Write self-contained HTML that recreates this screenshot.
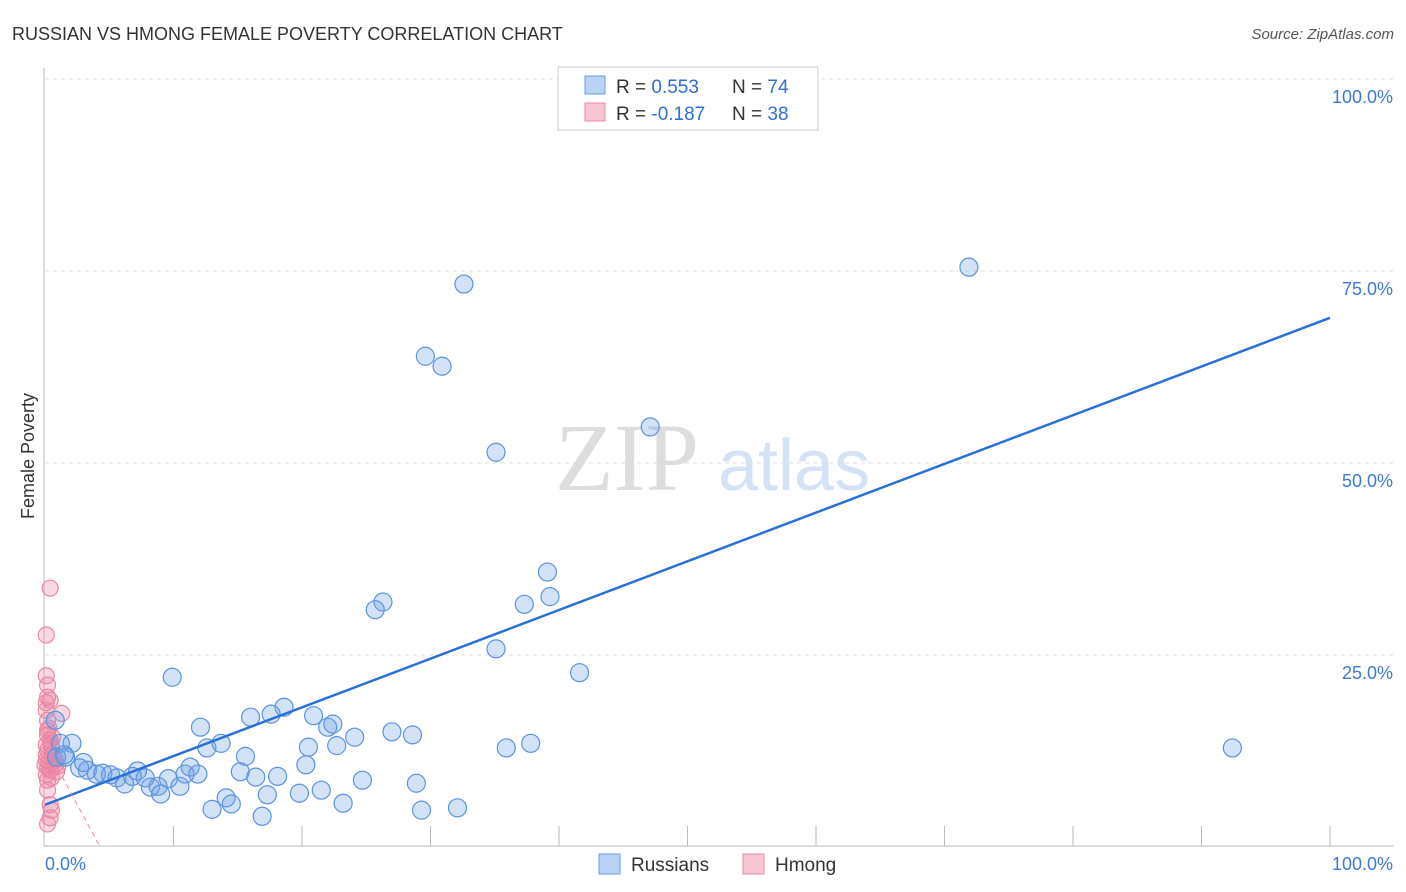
<!DOCTYPE html>
<html><head><meta charset="utf-8"><style>
body{margin:0;background:#fff;font-family:"Liberation Sans",sans-serif}
svg{display:block}
</style></head><body>
<svg id="c" width="1406" height="892" xmlns="http://www.w3.org/2000/svg">
<text x="12" y="40" font-size="18" fill="#333">RUSSIAN VS HMONG FEMALE POVERTY CORRELATION CHART</text>
<text x="1394" y="39" font-size="15" fill="#555" font-style="italic" text-anchor="end">Source: ZipAtlas.com</text>
<text x="34" y="456" font-size="18" fill="#333" text-anchor="middle" transform="rotate(-90 34 456)">Female Poverty</text>
<g>
<text x="555" y="490" font-size="96" fill="#ddd" font-family="Liberation Serif,serif">ZIP</text>
<text x="718" y="490" font-size="72" fill="#d4e2f5">atlas</text>
</g>
<g id="grid"></g><g id="axes"></g><g id="pts"></g><g id="lines"></g>
<g>
<rect x="558" y="67" width="260" height="63" fill="#fff" stroke="#ccc"/>
<rect x="585" y="76" width="20" height="18" fill="#b9d3f5" stroke="#6a9ee0"/>
<rect x="585" y="103" width="20" height="18" fill="#f8c5d3" stroke="#e88aa5"/>
<text x="616" y="93" font-size="19" fill="#333">R = <tspan fill="#2f6fd6">0.553</tspan></text>
<text x="732" y="93" font-size="19" fill="#333">N = <tspan fill="#2f6fd6">74</tspan></text>
<text x="616" y="120" font-size="19" fill="#333">R = <tspan fill="#2f6fd6">-0.187</tspan></text>
<text x="732" y="120" font-size="19" fill="#333">N = <tspan fill="#2f6fd6">38</tspan></text>
</g>
<g>
<rect x="599" y="854" width="21" height="20" fill="#b9d3f5" stroke="#6a9ee0"/>
<text x="631" y="871" font-size="19" fill="#333">Russians</text>
<rect x="743" y="854" width="21" height="20" fill="#f8c5d3" stroke="#e88aa5"/>
<text x="775" y="871" font-size="19" fill="#333">Hmong</text>
</g>
</svg>
<script>
const blueX=[50.0,71.9,32.6,29.6,30.9,47.1,35.1,39.1,26.3,25.7,37.3,39.3,35.1,41.6,9.9,18.6,16.0,17.6,20.9,22.4,22.0,12.1,24.1,27.0,28.6,92.4,35.9,37.8,13.7,12.6,20.5,22.7,15.6,1.2,2.1,1.6,0.9,2.7,3.3,4.0,4.5,5.1,5.6,6.2,6.8,7.2,7.8,8.2,8.8,9.0,9.6,10.5,10.9,11.3,11.9,15.2,16.4,18.1,20.3,28.9,24.7,19.8,21.5,17.3,14.1,14.5,13.0,23.2,29.3,32.1,16.9,0.8,1.5,3.0];
const blueY=[99.9,75.5,73.3,63.9,62.6,54.7,51.4,35.8,31.9,30.9,31.6,32.6,25.8,22.7,22.1,18.2,16.9,17.3,17.1,16.0,15.6,15.6,14.3,15.0,14.6,12.9,12.9,13.5,13.5,12.9,13.0,13.2,11.8,13.5,13.5,11.7,11.7,10.3,10.0,9.5,9.6,9.4,9.0,8.2,9.2,9.9,9.0,7.8,7.9,6.9,8.9,7.9,9.5,10.4,9.5,9.8,9.1,9.2,10.7,8.3,8.7,7.0,7.4,6.8,6.4,5.6,4.9,5.7,4.8,5.1,4.0,16.5,12.0,11.0];
const pinkX=[0.4,0.1,0.1,0.2,0.2,0.4,0.1,1.3,0.2,0.2,0.4,0.5,0.2,0.6,0.1,0.8,0.4,0.1,0.9,0.2,0.5,0.4,0.2,0.1,0.3,0.2,0.5,0.8,1.0,0.0,0.2,0.4,0.1,0.6,0.1,0.3,0.5,0.2];
const pinkY=[33.7,27.6,22.3,21.1,19.5,19.1,18.8,17.4,16.5,14.6,13.9,13.3,12.6,12.0,11.3,10.7,10.0,9.4,9.8,8.7,4.8,3.8,3.0,17.8,15.5,15.2,12.9,11.3,10.5,10.7,7.4,5.5,13.3,14.3,12.0,11.1,9.0,10.3];
const xTicks=[0,10,20,30,40,50,60,70,80,90,100];
const yGrid=[25,50,75,100];
const yLabels=["25.0%","50.0%","75.0%","100.0%"];
const blueFit=[5.5,68.9];
const pinkFit=[13.3,-3.1];
const NS="http://www.w3.org/2000/svg";
const X=v=>45+v*12.85, Y=v=>847-v*7.68;
function mk(t,a,p){const e=document.createElementNS(NS,t);for(const k in a)e.setAttribute(k,a[k]);document.getElementById(p).appendChild(e);return e;}
yGrid.forEach((g,i)=>{
 const l=mk('line',{x1:45,x2:1394,y1:Y(g),y2:Y(g),stroke:'#ddd','stroke-dasharray':'4,4'},'grid');
 
 
 const t=mk('text',{x:1393,y:Y(g)+24,'font-size':18,fill:'#3d7ad8','text-anchor':'end'},'grid');t.textContent=yLabels[i];
 
 
});
let a=mk('line',{x1:44,x2:44,y1:68,y2:846,stroke:'#bbb'},'axes');


a=mk('line',{x1:44,x2:1394,y1:846,y2:846,stroke:'#bbb'},'axes');


xTicks.forEach(v=>{if(v>0){const t=mk('line',{x1:X(v),x2:X(v),y1:826,y2:846,stroke:'#bbb'},'axes');
 
 }});
let t=mk('text',{x:45,y:870,'font-size':18,fill:'#3d7ad8'},'axes');t.textContent='0.0%';


t=mk('text',{x:1393,y:870,'font-size':18,fill:'#3d7ad8','text-anchor':'end'},'axes');t.textContent='100.0%';


pinkX.forEach((x,i)=>{const c=mk('circle',{cx:X(x),cy:Y(pinkY[i]),r:8,fill:'rgba(240,130,160,0.3)',stroke:'#e98aa6','stroke-width':1.2},'pts');
 
 });
blueX.forEach((x,i)=>{const c=mk('circle',{cx:X(x),cy:Y(blueY[i]),r:9,fill:'rgba(110,160,230,0.3)',stroke:'#5b93e0','stroke-width':1.2},'pts');
 
 });
let l=mk('line',{x1:X(0),y1:Y(blueFit[0]),x2:X(100),y2:Y(blueFit[1]),stroke:'#2a6fd8','stroke-width':2.5},'lines');


const px=-pinkFit[0]/pinkFit[1];
l=mk('line',{x1:X(0),y1:Y(pinkFit[0]),x2:X(px),y2:Y(0),stroke:'#e98aa6','stroke-width':1,'stroke-dasharray':'5,4'},'lines');


</script>
</body></html>
